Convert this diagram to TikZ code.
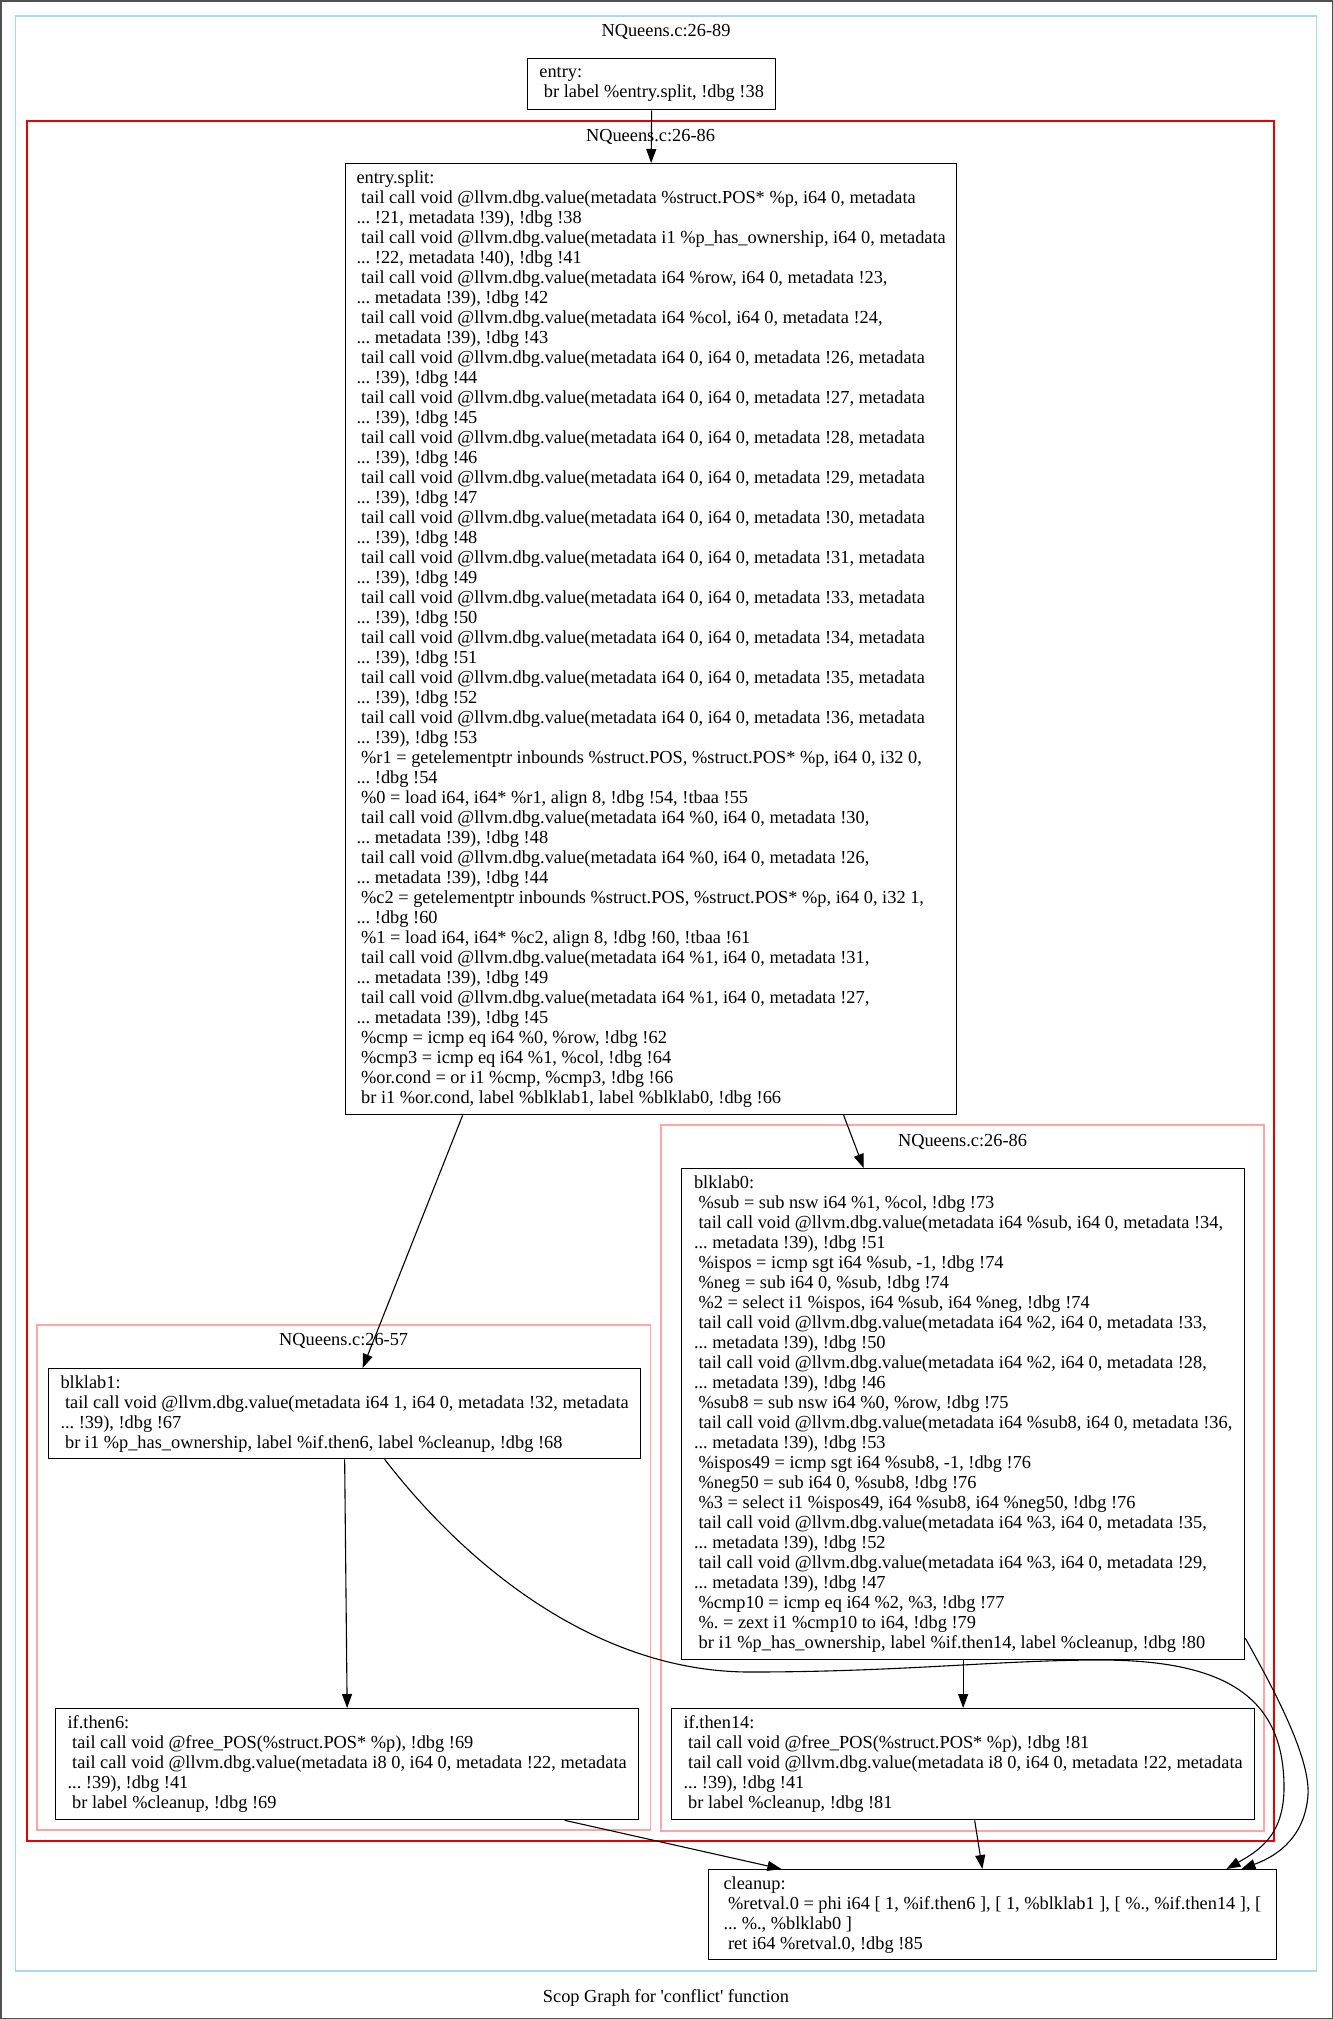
\documentclass[tikz,border=0pt]{standalone}
\usepackage{fontspec}
\setmainfont{Liberation Serif}
\usetikzlibrary{arrows.meta}
\definecolor{clblue}{RGB}{173,216,230}
\definecolor{clred}{RGB}{230,0,0}
\definecolor{clpink}{RGB}{255,165,165}
\definecolor{framegray}{RGB}{80,80,80}
% leading blank of an instruction line
\newcommand\ind{\hspace*{0.25em}}

\begin{document}
\begin{tikzpicture}[x=1pt,y=-1pt,
  txt/.style={font=\fontsize{18.35pt}{20pt}\selectfont\frenchspacing},
  block/.style={txt, draw=black, line width=1.3pt, align=left, inner sep=0pt, anchor=north west},
  ctitle/.style={txt, anchor=base, inner sep=0pt},
  cluster/.style={line width=1.6pt},
  flow/.style={line width=1.1pt, -{Triangle[length=14pt,width=10pt]}}
]
\useasboundingbox (0,0) rectangle (1333,2019);
\draw[framegray, line width=1.5pt] (0.75,0.75) rectangle (1332.25,2018.25);

% clusters
\draw[cluster, clblue] (15.5,16) rectangle (1316.5,1971);
\draw[cluster, clred] (27,121) rectangle (1274,1841);
\draw[cluster, clpink] (37,1325) rectangle (650.5,1830);
\draw[cluster, clpink] (661,1125) rectangle (1264,1831);

\node[ctitle] (tmain) at (666,36) {NQueens.c:26-89};
\node[ctitle] (tbody) at (650.5,141) {NQueens.c:26-86};
\node[ctitle] (tleft) at (343.7,1345.5) {NQueens.c:26-57};
\node[ctitle] (tright) at (962.5,1146) {NQueens.c:26-86};
\node[ctitle] (caption) at (666,2002) {Scop Graph for \textquotesingle conflict\textquotesingle{} function};

% basic blocks
\node[block, minimum width=248pt, minimum height=51pt] (entry) at (527,58) {entry:\\
\ind br label \%entry.split, !dbg !38};

\node[block, minimum width=611pt, minimum height=951pt] (esplit) at (345,163) {entry.split:\\
\ind tail call void @llvm.dbg.value(metadata \%struct.POS* \%p, i64 0, metadata\\
... !21, metadata !39), !dbg !38\\
\ind tail call void @llvm.dbg.value(metadata i1 \%p\_has\_ownership, i64 0, metadata\\
... !22, metadata !40), !dbg !41\\
\ind tail call void @llvm.dbg.value(metadata i64 \%row, i64 0, metadata !23,\\
... metadata !39), !dbg !42\\
\ind tail call void @llvm.dbg.value(metadata i64 \%col, i64 0, metadata !24,\\
... metadata !39), !dbg !43\\
\ind tail call void @llvm.dbg.value(metadata i64 0, i64 0, metadata !26, metadata\\
... !39), !dbg !44\\
\ind tail call void @llvm.dbg.value(metadata i64 0, i64 0, metadata !27, metadata\\
... !39), !dbg !45\\
\ind tail call void @llvm.dbg.value(metadata i64 0, i64 0, metadata !28, metadata\\
... !39), !dbg !46\\
\ind tail call void @llvm.dbg.value(metadata i64 0, i64 0, metadata !29, metadata\\
... !39), !dbg !47\\
\ind tail call void @llvm.dbg.value(metadata i64 0, i64 0, metadata !30, metadata\\
... !39), !dbg !48\\
\ind tail call void @llvm.dbg.value(metadata i64 0, i64 0, metadata !31, metadata\\
... !39), !dbg !49\\
\ind tail call void @llvm.dbg.value(metadata i64 0, i64 0, metadata !33, metadata\\
... !39), !dbg !50\\
\ind tail call void @llvm.dbg.value(metadata i64 0, i64 0, metadata !34, metadata\\
... !39), !dbg !51\\
\ind tail call void @llvm.dbg.value(metadata i64 0, i64 0, metadata !35, metadata\\
... !39), !dbg !52\\
\ind tail call void @llvm.dbg.value(metadata i64 0, i64 0, metadata !36, metadata\\
... !39), !dbg !53\\
\ind \%r1 = getelementptr inbounds \%struct.POS, \%struct.POS* \%p, i64 0, i32 0,\\
... !dbg !54\\
\ind \%0 = load i64, i64* \%r1, align 8, !dbg !54, !tbaa !55\\
\ind tail call void @llvm.dbg.value(metadata i64 \%0, i64 0, metadata !30,\\
... metadata !39), !dbg !48\\
\ind tail call void @llvm.dbg.value(metadata i64 \%0, i64 0, metadata !26,\\
... metadata !39), !dbg !44\\
\ind \%c2 = getelementptr inbounds \%struct.POS, \%struct.POS* \%p, i64 0, i32 1,\\
... !dbg !60\\
\ind \%1 = load i64, i64* \%c2, align 8, !dbg !60, !tbaa !61\\
\ind tail call void @llvm.dbg.value(metadata i64 \%1, i64 0, metadata !31,\\
... metadata !39), !dbg !49\\
\ind tail call void @llvm.dbg.value(metadata i64 \%1, i64 0, metadata !27,\\
... metadata !39), !dbg !45\\
\ind \%cmp = icmp eq i64 \%0, \%row, !dbg !62\\
\ind \%cmp3 = icmp eq i64 \%1, \%col, !dbg !64\\
\ind \%or.cond = or i1 \%cmp, \%cmp3, !dbg !66\\
\ind br i1 \%or.cond, label \%blklab1, label \%blklab0, !dbg !66};

\node[block, minimum width=592pt, minimum height=90pt] (blklab1) at (48,1368) {blklab1:\\
\ind tail call void @llvm.dbg.value(metadata i64 1, i64 0, metadata !32, metadata\\
... !39), !dbg !67\\
\ind br i1 \%p\_has\_ownership, label \%if.then6, label \%cleanup, !dbg !68};

\node[block, minimum width=583pt, minimum height=111pt] (ifthen6) at (55,1708) {if.then6:\\
\ind tail call void @free\_POS(\%struct.POS* \%p), !dbg !69\\
\ind tail call void @llvm.dbg.value(metadata i8 0, i64 0, metadata !22, metadata\\
... !39), !dbg !41\\
\ind br label \%cleanup, !dbg !69};

\node[block, minimum width=563pt, minimum height=491pt] (blklab0) at (681,1168) {blklab0:\\
\ind \%sub = sub nsw i64 \%1, \%col, !dbg !73\\
\ind tail call void @llvm.dbg.value(metadata i64 \%sub, i64 0, metadata !34,\\
... metadata !39), !dbg !51\\
\ind \%ispos = icmp sgt i64 \%sub, -1, !dbg !74\\
\ind \%neg = sub i64 0, \%sub, !dbg !74\\
\ind \%2 = select i1 \%ispos, i64 \%sub, i64 \%neg, !dbg !74\\
\ind tail call void @llvm.dbg.value(metadata i64 \%2, i64 0, metadata !33,\\
... metadata !39), !dbg !50\\
\ind tail call void @llvm.dbg.value(metadata i64 \%2, i64 0, metadata !28,\\
... metadata !39), !dbg !46\\
\ind \%sub8 = sub nsw i64 \%0, \%row, !dbg !75\\
\ind tail call void @llvm.dbg.value(metadata i64 \%sub8, i64 0, metadata !36,\\
... metadata !39), !dbg !53\\
\ind \%ispos49 = icmp sgt i64 \%sub8, -1, !dbg !76\\
\ind \%neg50 = sub i64 0, \%sub8, !dbg !76\\
\ind \%3 = select i1 \%ispos49, i64 \%sub8, i64 \%neg50, !dbg !76\\
\ind tail call void @llvm.dbg.value(metadata i64 \%3, i64 0, metadata !35,\\
... metadata !39), !dbg !52\\
\ind tail call void @llvm.dbg.value(metadata i64 \%3, i64 0, metadata !29,\\
... metadata !39), !dbg !47\\
\ind \%cmp10 = icmp eq i64 \%2, \%3, !dbg !77\\
\ind \%. = zext i1 \%cmp10 to i64, !dbg !79\\
\ind br i1 \%p\_has\_ownership, label \%if.then14, label \%cleanup, !dbg !80};

\node[block, minimum width=583pt, minimum height=111pt] (ifthen14) at (671,1708) {if.then14:\\
\ind tail call void @free\_POS(\%struct.POS* \%p), !dbg !81\\
\ind tail call void @llvm.dbg.value(metadata i8 0, i64 0, metadata !22, metadata\\
... !39), !dbg !41\\
\ind br label \%cleanup, !dbg !81};

\node[block, minimum width=568.5pt, minimum height=90pt] (cleanup) at (707.5,1869) {cleanup:\\
\ind \%retval.0 = phi i64 [ 1, \%if.then6 ], [ 1, \%blklab1 ], [ \%., \%if.then14 ], [\\
... \%., \%blklab0 ]\\
\ind ret i64 \%retval.0, !dbg !85};

% control flow
\draw[flow] (entry.south) -- (esplit.north);
\draw[flow] ([xshift=-188.5pt]esplit.south) -- ([xshift=18pt]blklab1.north);
\draw[flow] ([xshift=192.5pt]esplit.south) -- ([xshift=-99.5pt]blklab0.north);
\draw[flow] (blklab1.south) -- (ifthen6.north);
\draw[flow] ([xshift=40pt]blklab1.south) .. controls (470,1570) and (600,1672) .. (750,1672)
  .. controls (900,1672) and (1000,1660) .. (1100,1660)
  .. controls (1230,1660) and (1285,1700) .. (1284,1790)
  .. controls (1283,1835) and (1260,1850) .. ([xshift=234pt]cleanup.north);
\draw[flow] (blklab0.south) -- (ifthen14.north);
\draw[flow] ([yshift=22pt]blklab0.south east) .. controls (1280,1700) and (1310,1760) .. (1308,1795)
  .. controls (1305,1835) and (1280,1855) .. ([xshift=249pt]cleanup.north);
\draw[flow] ([xshift=217.5pt]ifthen6.south) -- ([xshift=-211pt]cleanup.north);
\draw[flow] ([xshift=11.5pt]ifthen14.south) -- ([xshift=-10pt]cleanup.north);
\end{tikzpicture}
\end{document}
